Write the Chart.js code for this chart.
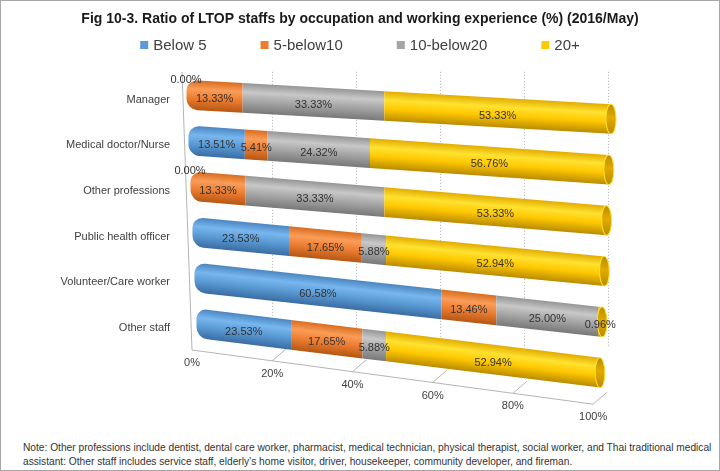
<!DOCTYPE html>
<html>
<head>
<meta charset="utf-8">
<script src="https://cdn.jsdelivr.net/npm/chart.js@4.4.1/dist/chart.umd.min.js"></script>
<style>
  body { margin: 0; background: #fff; }
  #wrap { position: relative; width: 720px; height: 471px; box-sizing: border-box; border: 1px solid #a6a6a6; }
  #box { position: absolute; left: 0; top: 0; width: 718px; height: 432px; }
  #note { position: absolute; left: 22px; top: 440px; white-space: nowrap; font: 10.2px "Liberation Sans", Arial, sans-serif; color: #333; line-height: 14px; }
</style>
</head>
<body>
<div id="wrap">
  <div id="box"><canvas id="chart"></canvas></div>
  <div id="note">Note: Other professions include dentist, dental care worker, pharmacist, medical technician, physical therapist, social worker, and Thai traditional medical<br>assistant: Other staff includes service staff, elderly’s home visitor, driver, housekeeper, community developer, and fireman.</div>
</div>
<script>
const categories = ['Manager', 'Medical doctor/Nurse', 'Other professions', 'Public health officer', 'Volunteer/Care worker', 'Other staff'];
const seriesNames = ['Below 5', '5-below10', '10-below20', '20+'];
const below5 = [0, 13.51, 0, 23.53, 60.58, 23.53];
const from5to10 = [13.33, 5.41, 13.33, 17.65, 13.46, 17.65];
const from10to20 = [33.33, 24.32, 33.33, 5.88, 25.00, 5.88];
const over20 = [53.33, 56.76, 53.33, 52.94, 0.96, 52.94];
const xTicks = [0, 20, 40, 60, 80, 100];

const series = [below5, from5to10, from10to20, over20];
// edge, highlight, body, shadow
const shades = [
    ['#4a85bf', '#78b6ef', '#5b9bd5', '#3a6ca3'],
    ['#d86c20', '#fa9d58', '#ed7d31', '#b55714'],
    ['#959595', '#c8c8c8', '#a5a5a5', '#787878'],
    ['#e2ab00', '#ffe230', '#ffc800', '#b98b00']
];
const fam = '"Liberation Sans", Arial, sans-serif';
const textColor = '#404040';
const barPct = 0.65;

function cylinder(shade) {
    return (c) => {
        const y = c.chart.scales.y;
        if (c.type !== 'data' || !y) return shade[2];
        const yc = y.getPixelForValue(c.dataIndex);
        const half = (y.bottom - y.top) / categories.length * barPct / 2;
        if (!isFinite(yc) || !isFinite(half) || half <= 0) return shade[2];
        const g = c.chart.ctx.createLinearGradient(0, yc - half, 0, yc + half);
        g.addColorStop(0, shade[0]);
        g.addColorStop(0.3, shade[1]);
        g.addColorStop(0.6, shade[2]);
        g.addColorStop(1, shade[3]);
        return g;
    };
}

function firstLast(i) {
    let first = -1, last = -1;
    series.forEach((s, j) => {
        if (s[i] > 0) {
            if (first < 0) first = j;
            last = j;
        }
    });
    return [first, last];
}

// fake 3d: every row gets its own little perspective tilt
function rowTransform(chart, i) {
    const left = chart.chartArea.left;
    const k = 1.012 - 0.01 * i;
    const s = 0.058 + 0.012 * i;
    const dx = -2 + 2 * i;
    const e = left + dx - k * left;
    const f = -s * left;
    return { k, s, e, f, map: (x, y) => [k * x + e, s * x + y + f] };
}

const cylinders = {
    id: 'cylinders',
    beforeDatasetsDraw(chart) {
        const ctx = chart.ctx;
        const a = chart.chartArea;
        const xs = chart.scales.x;
        const front = (v) => {
            const px = xs.getPixelForValue(v);
            const fx = a.left + 4 + (px - a.left) * 0.955;
            return [fx, a.bottom + 4 + 0.135 * (fx - a.left - 4)];
        };

        // floor and walls
        ctx.save();
        ctx.strokeStyle = '#b4b4b4';
        ctx.lineWidth = 1;
        ctx.beginPath();
        const f0 = front(0), f100 = front(100);
        ctx.moveTo(a.left - 6, a.top);
        ctx.lineTo(f0[0], f0[1]);
        ctx.lineTo(f100[0], f100[1]);
        xTicks.forEach(v => {
            if (v === 0) return;
            const p = front(v);
            ctx.moveTo(p[0], p[1]);
            ctx.lineTo(p[0] + 14, p[1] - 12);
        });
        ctx.stroke();
        ctx.fillStyle = textColor;
        ctx.font = '11px ' + fam;
        ctx.textAlign = 'center';
        ctx.textBaseline = 'middle';
        xTicks.forEach(v => {
            const p = front(v);
            ctx.fillText(v + '%', p[0], p[1] + 13);
        });
        ctx.restore();

        const metas = series.map((s, j) => chart.getDatasetMeta(j));

        categories.forEach((cat, i) => {
            const t = rowTransform(chart, i);
            const [first, last] = firstLast(i);
            metas.forEach((meta, j) => {
                if (series[j][i] <= 0) return;
                ctx.save();
                ctx.transform(t.k, t.s, 0, 1, t.e, t.f);
                meta.data[i].draw(ctx);
                ctx.restore();
            });
            if (last >= 0) {
                const el = metas[last].data[i];
                const h = el.height;
                const shade = shades[last];
                ctx.save();
                ctx.transform(t.k, t.s, 0, 1, t.e, t.f);
                const g = ctx.createLinearGradient(0, el.y - h / 2, 0, el.y + h / 2);
                g.addColorStop(0, shade[3]);
                g.addColorStop(0.45, shade[0]);
                g.addColorStop(1, shade[3]);
                ctx.fillStyle = g;
                ctx.strokeStyle = shade[1];
                ctx.lineWidth = 1;
                ctx.beginPath();
                ctx.ellipse(el.x, el.y, 5, h / 2, 0, 0, Math.PI * 2);
                ctx.fill();
                ctx.stroke();
                ctx.restore();
            }
        });

        // value labels
        ctx.save();
        ctx.font = '11px ' + fam;
        ctx.fillStyle = '#333333';
        ctx.textAlign = 'center';
        ctx.textBaseline = 'middle';
        categories.forEach((cat, i) => {
            const t = rowTransform(chart, i);
            metas.forEach((meta, j) => {
                const v = series[j][i];
                const el = meta.data[i];
                const p = t.map((el.base + el.x) / 2, el.y);
                const y = v > 0 ? p[1] + 3 : p[1] - el.height / 2;
                ctx.fillText(v.toFixed(2) + '%', p[0], y);
            });
        });
        ctx.restore();
        return false;
    },
    afterDraw(chart) {
        // legend, spread like the original
        const ctx = chart.ctx;
        const box = 8, gap = 5, spacing = 54;
        ctx.save();
        ctx.font = '15px ' + fam;
        const widths = seriesNames.map(n => box + gap + ctx.measureText(n).width);
        const total = widths.reduce((p, w) => p + w, 0) + spacing * (seriesNames.length - 1);
        let x = chart.width / 2 - total / 2;
        const y = 44;
        ctx.textBaseline = 'middle';
        seriesNames.forEach((n, j) => {
            ctx.fillStyle = shades[j][2];
            ctx.fillRect(x, y - box / 2, box, box);
            ctx.fillStyle = textColor;
            ctx.fillText(n, x + box + gap, y + 1);
            x += widths[j] + spacing;
        });
        ctx.restore();
    }
};

new Chart(document.getElementById('chart'), {
    type: 'bar',
    data: {
        labels: categories,
        datasets: series.map((s, j) => ({
            label: seriesNames[j],
            data: s,
            backgroundColor: cylinder(shades[j])
        }))
    },
    options: {
        indexAxis: 'y',
        responsive: true,
        maintainAspectRatio: false,
        animation: false,
        layout: { padding: { top: 10, right: 0, bottom: 0, left: 0 } },
        datasets: {
            bar: {
                barPercentage: barPct,
                categoryPercentage: 1,
                borderWidth: 0,
                borderSkipped: false,
                borderRadius: (c) => {
                    if (c.type !== 'data') return 0;
                    const [first] = firstLast(c.dataIndex);
                    const r = c.datasetIndex === first ? 11 : 0;
                    return { topLeft: r, bottomLeft: r, topRight: 0, bottomRight: 0 };
                }
            }
        },
        scales: {
            x: {
                stacked: true,
                min: 0,
                max: 100,
                ticks: { display: false, stepSize: 20 },
                grid: {
                    drawTicks: false,
                    color: (c) => (c.tick && c.tick.value === 0) ? 'rgba(0,0,0,0)' : '#b0b0b0'
                },
                border: { display: false, dash: [1, 2] },
                afterFit: (s) => { s.height = 87; }
            },
            y: {
                stacked: true,
                grid: { display: false },
                border: { display: false },
                ticks: {
                    color: textColor,
                    padding: 10,
                    labelOffset: 5,
                    font: { family: fam, size: 11 }
                },
                afterFit: (s) => { s.width = 187; }
            },
            // empty right side, keeps title centred on the whole canvas
            yRight: {
                type: 'category',
                position: 'right',
                grid: { display: false },
                border: { display: false },
                ticks: { display: false },
                afterFit: (s) => { s.width = 111; }
            }
        },
        plugins: {
            title: {
                display: true,
                text: 'Fig 10-3. Ratio of LTOP staffs by occupation and working experience (%) (2016/May)',
                color: '#1a1a1a',
                font: { family: fam, size: 14, weight: 'bold', lineHeight: 1.2 },
                padding: { top: 0, bottom: 44 }
            },
            legend: { display: false },
            tooltip: { enabled: false }
        }
    },
    plugins: [cylinders]
});
</script>
</body>
</html>
